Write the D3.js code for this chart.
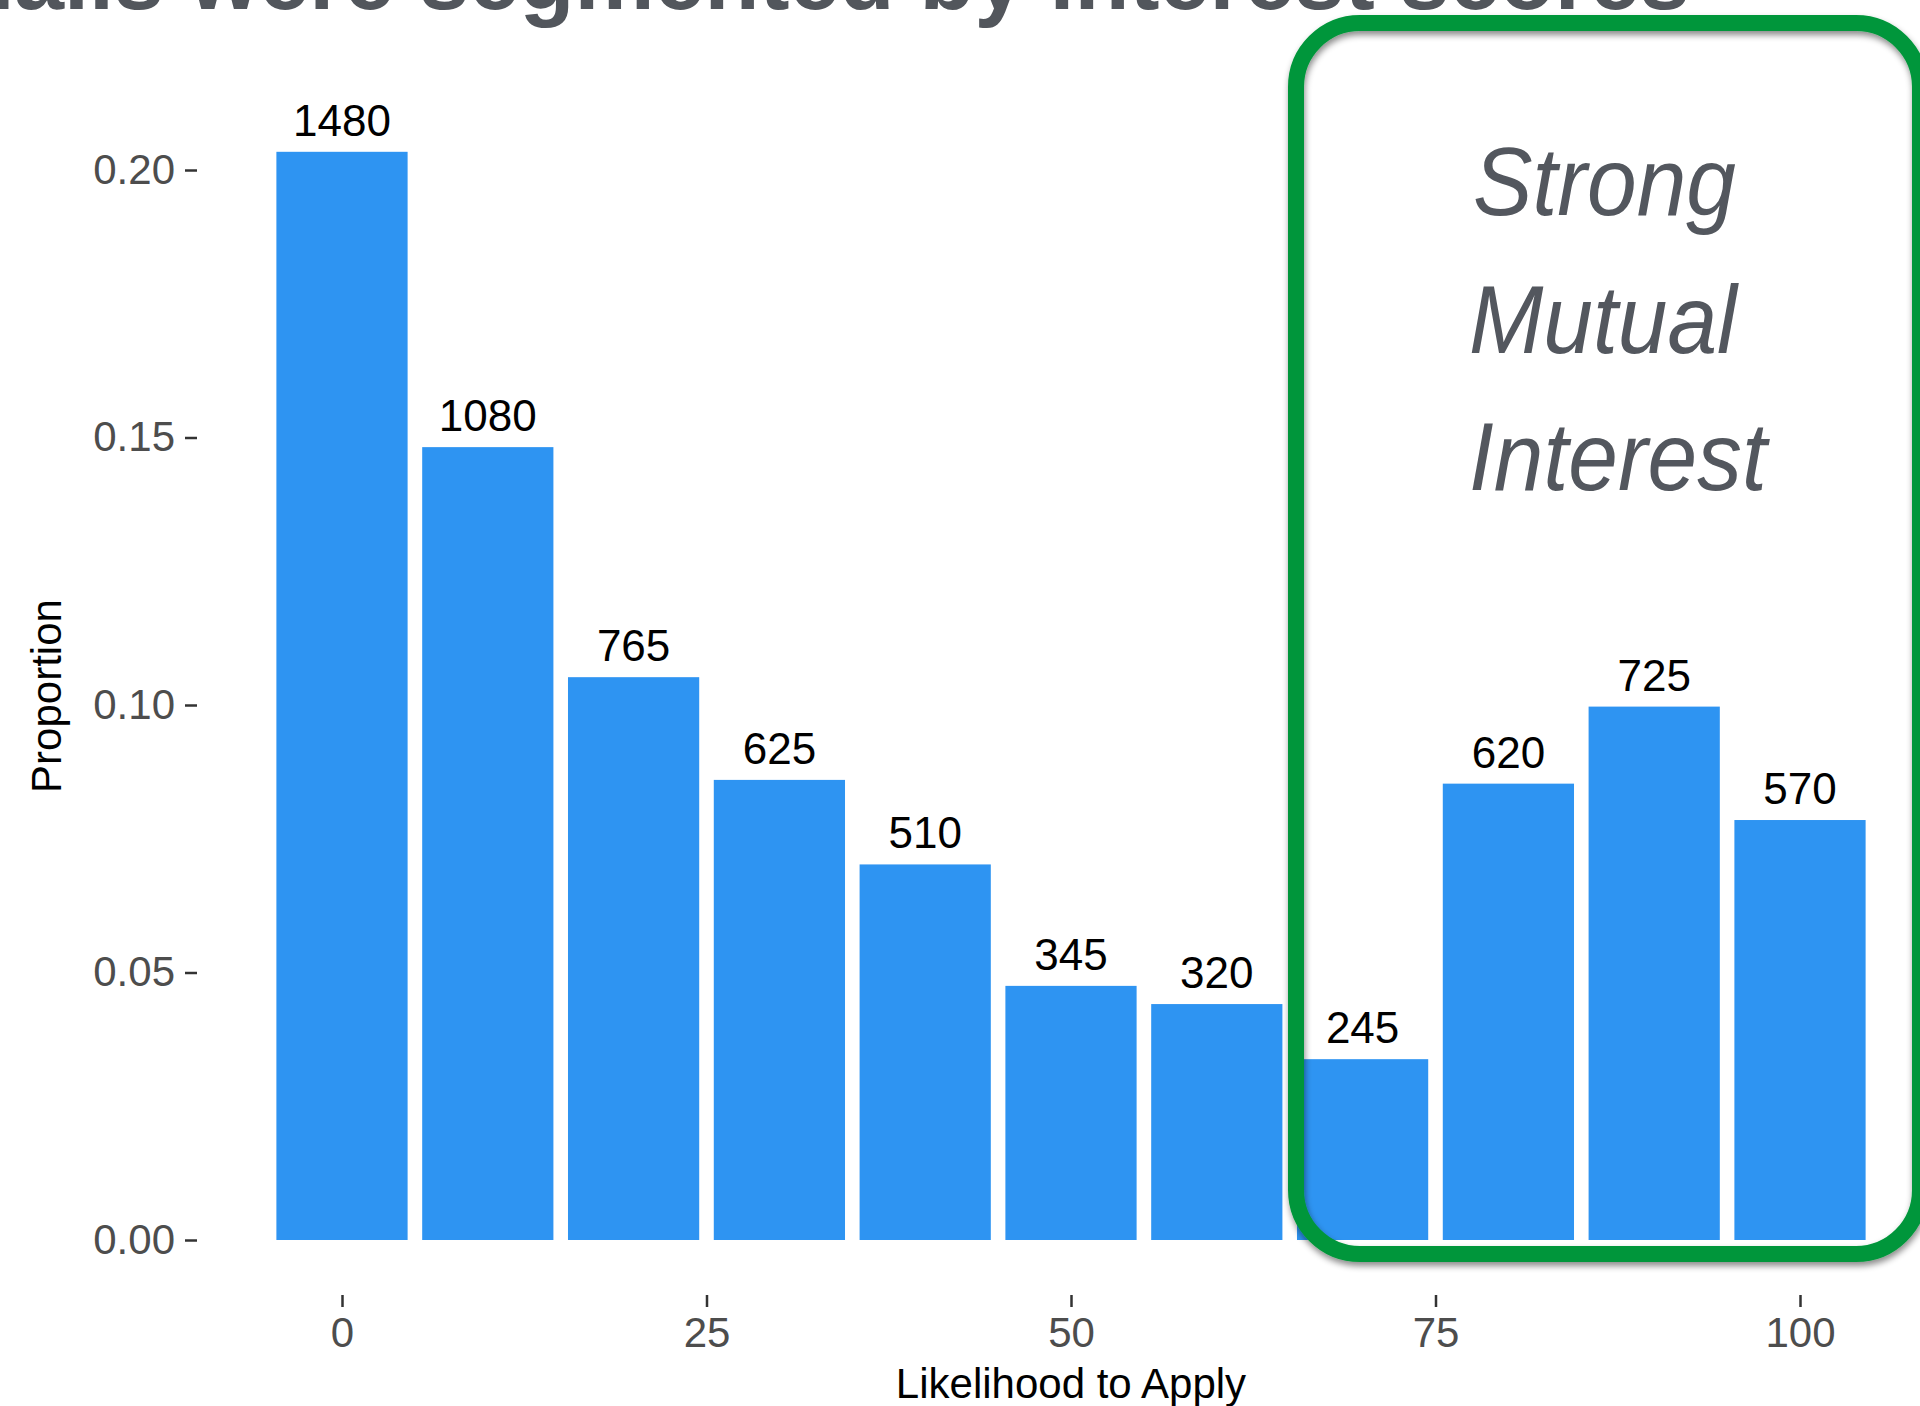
<!DOCTYPE html>
<html>
<head>
<meta charset="utf-8">
<script src="https://cdn.jsdelivr.net/npm/d3@7"></script>
<style>
  html, body { margin: 0; padding: 0; background: #ffffff; }
  svg { display: block; }
  text { font-family: "Liberation Sans", Arial, Helvetica, sans-serif; }
</style>
</head>
<body>
<script>
// ---- data ----
const bins = [0, 10, 20, 30, 40, 50, 60, 70, 80, 90, 100];
const proportions = [0.2034, 0.1482, 0.1052, 0.0860, 0.0702, 0.0475, 0.0441, 0.0338, 0.0853, 0.0997, 0.0785];
const counts = [1480, 1080, 765, 625, 510, 345, 320, 245, 620, 725, 570];
const yTicks = [0, 0.05, 0.10, 0.15, 0.20];
const xTicks = [0, 25, 50, 75, 100];
const binWidth = 10;
const titleText = "Emails were segmented by interest scores";
const xTitle = "Likelihood to Apply";
const yTitle = "Proportion";
const boxLines = ["Strong", "Mutual", "Interest"];

// ---- layout ----
const W = 1920, H = 1406;
const panel = { left: 197, right: 1945, top: 97, bottom: 1295 };

const svg = d3.select("body").append("svg")
  .attr("width", W).attr("height", H)
  .attr("viewBox", `0 0 ${W} ${H}`);

svg.append("rect").attr("width", W).attr("height", H).attr("fill", "#ffffff");

const defs = svg.append("defs");
const f = defs.append("filter").attr("id", "shadow")
  .attr("x", "-10%").attr("y", "-10%").attr("width", "120%").attr("height", "120%");
f.append("feDropShadow").attr("dx", 1).attr("dy", 4).attr("stdDeviation", 3)
  .attr("flood-color", "#000").attr("flood-opacity", 0.45);

const x = d3.scaleLinear().domain([0, 100]).range([342, 1800]);
const y = d3.scaleLinear().domain([0, 0.2]).range([1240, 170]);

// title (cut off at top, as in the source slide)
svg.append("text")
  .attr("x", -126).attr("y", 9)
  .attr("font-size", 90).attr("font-weight", "bold")
  .attr("fill", "#52565c")
  .text(titleText);

// bars
const data = bins.map((b, i) => ({ bin: b, p: proportions[i], n: counts[i] }));

svg.append("g").selectAll("rect").data(data).join("rect")
  .attr("x", d => x(d.bin - binWidth * 0.45))
  .attr("width", d => x(d.bin + binWidth * 0.45) - x(d.bin - binWidth * 0.45))
  .attr("y", d => y(d.p))
  .attr("height", d => y(0) - y(d.p))
  .attr("fill", "#2e94f2");

// bar labels
svg.append("g").selectAll("text").data(data).join("text")
  .attr("x", d => x(d.bin))
  .attr("y", d => y(d.p) - 16)
  .attr("text-anchor", "middle")
  .attr("font-size", 44)
  .attr("fill", "#000")
  .text(d => d.n);

// y axis
const yAxis = svg.append("g")
  .attr("transform", `translate(${panel.left},0)`)
  .call(d3.axisLeft(y).tickValues(yTicks).tickFormat(d3.format(".2f")).tickSize(12).tickPadding(10));
yAxis.select(".domain").remove();
yAxis.selectAll(".tick line").attr("stroke", "#333").attr("stroke-width", 2.5);
yAxis.selectAll(".tick text").attr("font-size", 42).attr("fill", "#4d4d4d")
  .attr("font-family", "'Liberation Sans', Arial, sans-serif");

// x axis
const xAxis = svg.append("g")
  .attr("transform", `translate(0,${panel.bottom})`)
  .call(d3.axisBottom(x).tickValues(xTicks).tickFormat(d3.format("d")).tickSize(12).tickPadding(10));
xAxis.select(".domain").remove();
xAxis.selectAll(".tick line").attr("stroke", "#333").attr("stroke-width", 2.5);
xAxis.selectAll(".tick text").attr("font-size", 42).attr("fill", "#4d4d4d")
  .attr("font-family", "'Liberation Sans', Arial, sans-serif");

// axis titles
svg.append("text")
  .attr("x", (panel.left + panel.right) / 2).attr("y", 1398)
  .attr("text-anchor", "middle").attr("font-size", 42).attr("fill", "#000")
  .text(xTitle);

svg.append("text")
  .attr("transform", `translate(61,${(panel.top + panel.bottom) / 2}) rotate(-90)`)
  .attr("text-anchor", "middle").attr("font-size", 42).attr("fill", "#000")
  .text(yTitle);

// highlight box
svg.append("rect")
  .attr("x", 1296).attr("y", 23)
  .attr("width", 624).attr("height", 1231)
  .attr("rx", 64).attr("ry", 64)
  .attr("fill", "none")
  .attr("stroke", "#01963a").attr("stroke-width", 16)
  .attr("filter", "url(#shadow)");

const bl = svg.append("g");
boxLines.forEach((t, i) => {
  bl.append("text")
    .attr("transform", `translate(${i === 0 ? 1473 : 1469},${215 + i * 137.5}) scale(0.93,1)`)
    .attr("font-size", 96).attr("font-style", "italic")
    .attr("fill", "#53575e")
    .text(t);
});
</script>
</body>
</html>
